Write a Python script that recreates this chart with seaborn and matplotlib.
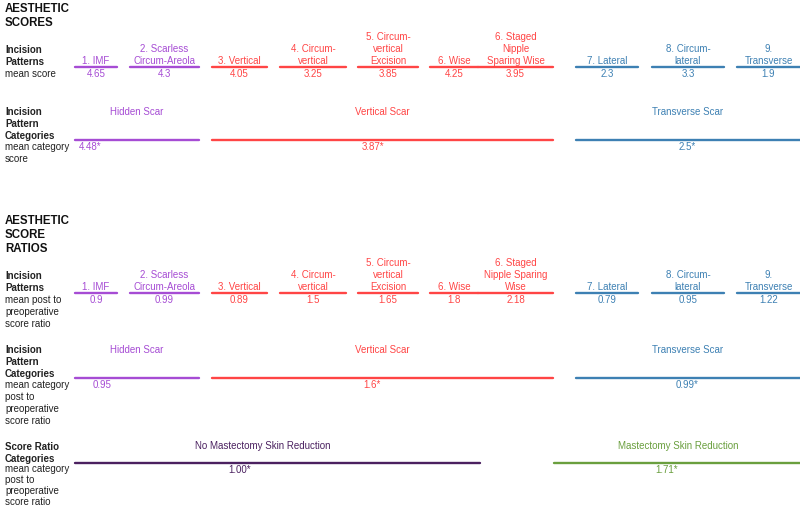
import pandas as pd
import matplotlib.pyplot as plt
import seaborn as sns

# --- datos ---
patrones_puntaje = ["1. IMF", "2. Scarless\nCircum-Areola", "3. Vertical", "4. Circum-\nvertical",
                    "5. Circum-\nvertical\nExcision", "6. Wise", "6. Staged\nNipple\nSparing Wise",
                    "7. Lateral", "8. Circum-\nlateral", "9.\nTransverse"]
patrones_ratio = ["1. IMF", "2. Scarless\nCircum-Areola", "3. Vertical", "4. Circum-\nvertical",
                  "5. Circum-\nvertical\nExcision", "6. Wise", "6. Staged\nNipple Sparing\nWise",
                  "7. Lateral", "8. Circum-\nlateral", "9.\nTransverse"]
grupo_patron = ["hidden", "hidden", "vertical", "vertical", "vertical", "vertical", "vertical",
                "transverse", "transverse", "transverse"]
puntaje_medio = ["4.65", "4.3", "4.05", "3.25", "3.85", "4.25", "3.95", "2.3", "3.3", "1.9"]
ratio_medio = ["0.9", "0.99", "0.89", "1.5", "1.65", "1.8", "2.18", "0.79", "0.95", "1.22"]

categorias = ["Hidden Scar", "Vertical Scar", "Transverse Scar"]
grupo_categoria = ["hidden", "vertical", "transverse"]
puntaje_categoria = ["4.48*", "3.87*", "2.5*"]
ratio_categoria = ["0.95", "1.6*", "0.99*"]

categorias_reduccion = ["No Mastectomy Skin Reduction", "Mastectomy Skin Reduction"]
grupo_reduccion = ["no_reduccion", "reduccion"]
ratio_reduccion = ["1.00*", "1.71*"]

# --- disposicion (pixeles) ---
x_patron = [(75, 117), (130, 199), (212, 267), (280, 346), (358, 418), (430, 478), (478, 553),
            (576, 638), (652, 724), (737, 800)]
x_categoria = [(75, 199), (212, 553), (576, 800)]
x_reduccion = [(75, 480), (554, 800)]
xc_val_cat1 = [90, 373, 687]
xc_val_cat2 = [102, 372, 687]
xc_reduccion = [263, 678]
xc_val_red = [240, 667]

colores = {"hidden": "#a64cd4", "vertical": "#ff4545", "transverse": "#3d80b3",
           "no_reduccion": "#4b2160", "reduccion": "#6a9f3e"}

sns.set_theme(style="white")
plt.rcParams['font.family'] = ['Liberation Sans', 'DejaVu Sans']

fig = plt.figure(figsize=(8, 5.07), dpi=100)
ax = fig.add_axes([0, 0, 1, 1])

# segmentos
filas = []
seg = 0


def agregar(spans, grupos, y):
    global seg
    for (x0, x1), g in zip(spans, grupos):
        filas.append({"x": x0, "y": y, "seg": seg, "grupo": g})
        filas.append({"x": x1, "y": y, "seg": seg, "grupo": g})
        seg += 1


LP1, LC1 = 67, 140
LP2, LC2, LR2 = 293, 378, 463
agregar(x_patron, grupo_patron, LP1)
agregar(x_categoria, grupo_categoria, LC1)
agregar(x_patron, grupo_patron, LP2)
agregar(x_categoria, grupo_categoria, LC2)
agregar(x_reduccion, grupo_reduccion, LR2)
df = pd.DataFrame(filas)

sns.lineplot(data=df, x="x", y="y", units="seg", estimator=None, hue="grupo",
             palette=colores, legend=False, linewidth=1.7, sort=False, ax=ax)

ax.set_xlim(0, 800)
ax.set_ylim(507, 0)
ax.axis('off')

fs = 7
ls = 1.27
# textos de patrones
for etiquetas, valores, ly in [(patrones_puntaje, puntaje_medio, LP1), (patrones_ratio, ratio_medio, LP2)]:
    for (x0, x1), et, v, g in zip(x_patron, etiquetas, valores, grupo_patron):
        xc = (x0 + x1) / 2
        ax.text(xc, ly - 1, et, ha='center', va='bottom', fontsize=fs, color=colores[g],
                multialignment='center', linespacing=ls)
        ax.text(xc, ly + 2, v, ha='center', va='top', fontsize=fs, color=colores[g])

# categorias
for valores, xv, ly in [(puntaje_categoria, xc_val_cat1, LC1), (ratio_categoria, xc_val_cat2, LC2)]:
    for (x0, x1), cat, v, g, xx in zip(x_categoria, categorias, valores, grupo_categoria, xv):
        ax.text((x0 + x1) / 2, ly - 28, cat, ha='center', va='center', fontsize=fs, color=colores[g])
        ax.text(xx, ly + 2, v, ha='center', va='top', fontsize=fs, color=colores[g])

for cat, v, g, xc, xv in zip(categorias_reduccion, ratio_reduccion, grupo_reduccion, xc_reduccion, xc_val_red):
    ax.text(xc, LR2 - 17, cat, ha='center', va='center', fontsize=fs, color=colores[g])
    ax.text(xv, LR2 + 2, v, ha='center', va='top', fontsize=fs, color=colores[g])

# etiquetas de filas
kw = dict(ha='left', fontsize=fs, color='#222222', linespacing=ls)
kw_t = dict(ha='left', va='top', fontsize=8.3, fontweight='bold', color='#111111', linespacing=1.2)
ax.text(5, 3, "AESTHETIC\nSCORES", **kw_t)
ax.text(5, LP1, "Incision\nPatterns", va='bottom', fontweight='bold', **kw)
ax.text(5, LP1 + 2, "mean score", va='top', **kw)
ax.text(5, LC1 + 1, "Incision\nPattern\nCategories", va='bottom', fontweight='bold', **kw)
ax.text(5, LC1 + 2, "mean category\nscore", va='top', **kw)

ax.text(5, 215, "AESTHETIC\nSCORE\nRATIOS", **kw_t)
ax.text(5, LP2, "Incision\nPatterns", va='bottom', fontweight='bold', **kw)
ax.text(5, LP2 + 2, "mean post to\npreoperative\nscore ratio", va='top', **kw)
ax.text(5, LC2 + 1, "Incision\nPattern\nCategories", va='bottom', fontweight='bold', **kw)
ax.text(5, LC2 + 2, "mean category\npost to\npreoperative\nscore ratio", va='top', **kw)
ax.text(5, LR2 + 1, "Score Ratio\nCategories", va='bottom', fontweight='bold', **kw)
ax.text(5, LR2 + 1.5, "mean category\npost to\npreoperative\nscore ratio", va='top',
        ha='left', fontsize=fs, color='#222222', linespacing=1.12)

fig.savefig("out.png", dpi=100)
